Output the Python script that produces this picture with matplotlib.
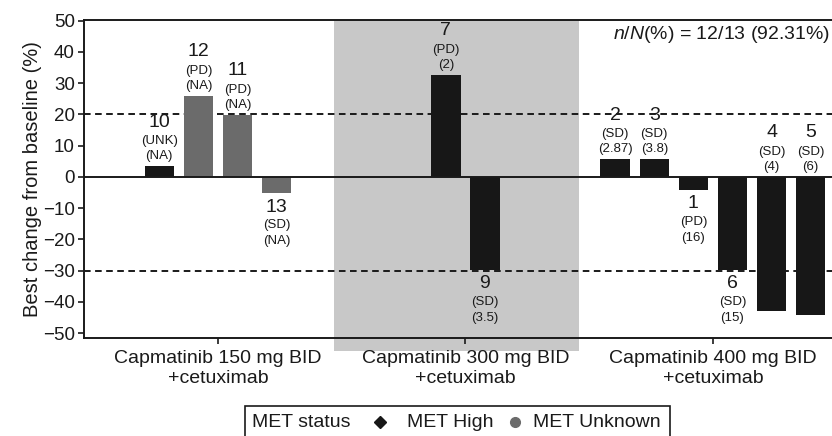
import matplotlib
matplotlib.use("Agg")
import matplotlib.pyplot as plt
from matplotlib.lines import Line2D
from matplotlib.patches import Rectangle
import numpy as np

plt.rcParams["font.family"] = ["Liberation Sans", "DejaVu Sans"]
plt.rcParams["mathtext.fontset"] = "custom"
plt.rcParams["mathtext.rm"] = "Liberation Sans"
plt.rcParams["mathtext.it"] = "Liberation Sans:italic"

# ── data ─────────────────────────────────────────────────────────────────────
GROUPS = ["Capmatinib 150 mg BID\n+cetuximab",
          "Capmatinib 300 mg BID\n+cetuximab",
          "Capmatinib 400 mg BID\n+cetuximab"]
GROUP_OF_BAR = [0, 0, 0, 0, 1, 1, 2, 2, 2, 2, 2, 2]
PATIENT_IDS = ["10", "12", "11", "13", "7", "9", "2", "3", "1", "6", "4", "5"]
BEST_CHANGE = [3.4, 26.0, 19.8, -5.2, 32.6, -29.8, 5.7, 5.7, -4.2, -29.8, -43.1, -44.2]
RESPONSE = ["UNK", "PD", "PD", "SD", "PD", "SD", "SD", "SD", "PD", "SD", "SD", "SD"]
DURATION = ["NA", "NA", "NA", "NA", "2", "3.5", "2.87", "3.8", "16", "15", "4", "6"]
MET_STATUS = ["High", "Unknown", "Unknown", "Unknown", "High", "High",
              "High", "High", "High", "High", "High", "High"]
THRESHOLDS = [20, -30]
SUMMARY = r"$n$/$N$(%) = 12/13 (92.31%)"

MET_COLORS = {"High": "#171717", "Unknown": "#6b6b6b"}
SHADE = "#c8c8c8"
INK = "#1a1a1a"

W, H = 832, 436


def fx(px):
    return px / W


def fy(py):
    return (H - py) / H


fig = plt.figure(figsize=(W / 100, H / 100), dpi=100)
ax = fig.add_axes([fx(84), fy(338), fx(832) - fx(84), fy(20) - fy(338)])

# bar x positions: bars packed around each group tick
step = 0.158
xs = []
for g in range(len(GROUPS)):
    idx = [i for i, gg in enumerate(GROUP_OF_BAR) if gg == g]
    n = len(idx)
    for k, i in enumerate(idx):
        xs.append(g + (k - (n - 1) / 2) * step)
xs = np.array(xs)

# shaded middle dose level (reaches a little below the axis)
ax.add_patch(Rectangle((0.469, -0.041), 0.99, 1.041, transform=ax.get_xaxis_transform(),
                       facecolor=SHADE, edgecolor="none", clip_on=False, zorder=0))

ax.axhline(0, color=INK, lw=1.4, zorder=3)
for t in THRESHOLDS:
    ax.axhline(t, color=INK, lw=1.4, linestyle=(0, (3.4, 2.3)), zorder=1.5)

colors = [MET_COLORS[m] for m in MET_STATUS]
ax.bar(xs, BEST_CHANGE, width=0.119, color=colors, zorder=2)

# labels: id / (response) / (duration)
PX = 0.72  # px -> points at 100 dpi
for x, v, pid, r, d in zip(xs, BEST_CHANGE, PATIENT_IDS, RESPONSE, DURATION):
    if v >= 0 or v < -40:
        # positive bars, and very deep bars, are labelled above the zero line
        base = max(v, 0)
        offs = [(f"({d})", 10, 9.5), (f"({r})", 25, 9.5), (pid, 44, 14)]
    else:
        base = v
        offs = [(pid, -14, 14), (f"({r})", -32, 9.5), (f"({d})", -48, 9.5)]
    for txt, o, fs in offs:
        ax.annotate(txt, (x, base), xytext=(0, o * PX), textcoords="offset points",
                    ha="center", va="center", fontsize=fs, color=INK, zorder=4)

ax.text(0.998, 0.955, SUMMARY, transform=ax.transAxes, ha="right", va="center",
        fontsize=14, color=INK)

ax.set_xlim(-0.541, 2.481)
ax.set_ylim(-51.6, 50.2)
ax.set_xticks(range(len(GROUPS)))
ax.set_xticklabels(GROUPS, fontsize=14, color=INK, linespacing=1.25)
ax.set_yticks(np.arange(-50, 51, 10))
ax.yaxis.set_tick_params(labelsize=13.5, length=4, width=1.2, pad=2.5, color=INK, labelcolor=INK)
ax.xaxis.set_tick_params(length=4.5, width=1.2, pad=4, color=INK)
ax.set_ylabel("Best change from baseline (%)", fontsize=14.5, color=INK, labelpad=1)
ax.spines["right"].set_visible(False)
for s in ("left", "bottom", "top"):
    ax.spines[s].set_linewidth(1.4)
    ax.spines[s].set_color(INK)

# ── legend box (MET status) ─────────────────────────────────────────────────
fig.add_artist(Rectangle((fx(245), fy(440)), fx(670) - fx(245), fy(406) - fy(440),
                         transform=fig.transFigure, facecolor="white",
                         edgecolor=INK, lw=1.2))
ly = fy(422)
fig.text(fx(252), ly, "MET status", ha="left", va="center", fontsize=14, color=INK)
fig.add_artist(Line2D([fx(380)], [ly], marker="D", markersize=6.5, color=MET_COLORS["High"],
                      linestyle="none", transform=fig.transFigure))
fig.text(fx(407), ly, "MET High", ha="left", va="center", fontsize=14, color=INK)
fig.add_artist(Line2D([fx(515)], [ly], marker="o", markersize=7, color=MET_COLORS["Unknown"],
                      linestyle="none", transform=fig.transFigure))
fig.text(fx(533), ly, "MET Unknown", ha="left", va="center", fontsize=14, color=INK)

fig.savefig("out.png", dpi=100, facecolor="white")
